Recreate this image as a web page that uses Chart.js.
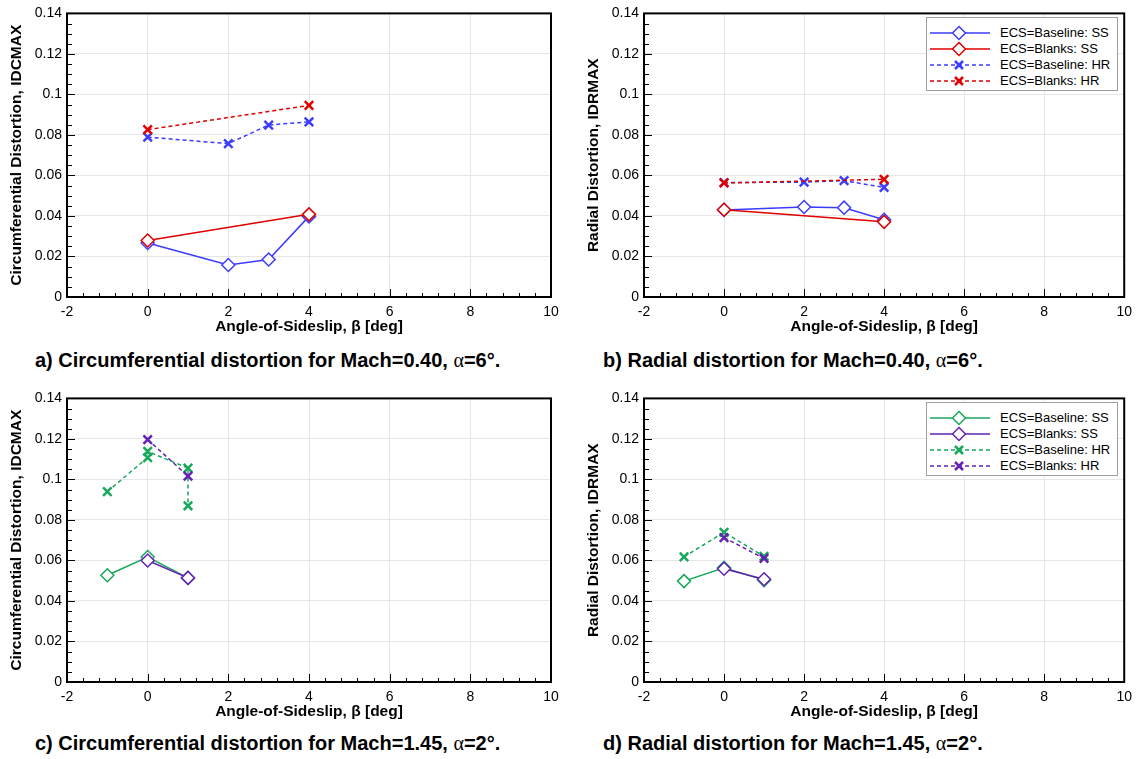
<!DOCTYPE html>
<html>
<head>
<meta charset="utf-8">
<script src="https://cdn.jsdelivr.net/npm/chart.js@4.4.1/dist/chart.umd.min.js"></script>
<style>
  body { margin: 0; background: #fff; width: 1139px; height: 759px; position: relative; overflow: hidden;
         font-family: "Liberation Sans", Arial, sans-serif; }
  canvas { position: absolute; }
  .cap { position: absolute; font-weight: bold; font-size: 20px; line-height: 22px; white-space: nowrap; color: #000; }
  .cap .g { font-family: "Liberation Serif", "DejaVu Serif", serif; font-weight: normal; }
  .legend { position: absolute; width: 190px; height: 72px; border: 1px solid #a0a0a0; background: #fff; font-size: 13px; color: #000; }
  .legend .row { position: absolute; left: 0; height: 16px; line-height: 16px; white-space: nowrap; width: 190px; }
  .legend svg { position: absolute; left: 2px; top: 0; }
  .legend span { position: absolute; left: 73px; }
</style>
</head>
<body>
<canvas id="ca" width="570" height="340" style="left:0;top:0"></canvas>
<canvas id="cb" width="562" height="340" style="left:577px;top:0"></canvas>
<canvas id="cc" width="570" height="340" style="left:0;top:385px"></canvas>
<canvas id="cd" width="562" height="340" style="left:577px;top:385px"></canvas>

<div class="cap" style="left:35px;top:349px">a) Circumferential distortion for Mach=0.40, <span class="g">&alpha;</span>=6&deg;.</div>
<div class="cap" style="left:603px;top:349px">b) Radial distortion for Mach=0.40, <span class="g">&alpha;</span>=6&deg;.</div>
<div class="cap" style="left:35px;top:732px">c) Circumferential distortion for Mach=1.45, <span class="g">&alpha;</span>=2&deg;.</div>
<div class="cap" style="left:603px;top:732px">d) Radial distortion for Mach=1.45, <span class="g">&alpha;</span>=2&deg;.</div>

<div class="legend" id="legB" style="left:926px;top:17px"></div>
<div class="legend" id="legD" style="left:926px;top:402px"></div>

<script>
// axis ticks
const xTicks = [-2, 0, 2, 4, 6, 8, 10];
const yTicks = [0, 0.02, 0.04, 0.06, 0.08, 0.1, 0.12, 0.14];
const yTickLabels = ['0', '0.02', '0.04', '0.06', '0.08', '0.1', '0.12', '0.14'];
const seriesNames = ['ECS=Baseline: SS', 'ECS=Blanks: SS', 'ECS=Baseline: HR', 'ECS=Blanks: HR'];

// a) Mach 0.40, circumferential
const betaA_baseline = [0, 2, 3, 4];
const betaA_blanks = [0, 4];
const idcA_baselineSS = [0.0267, 0.0158, 0.0185, 0.0398];
const idcA_blanksSS = [0.0279, 0.0408];
const idcA_baselineHR = [0.0789, 0.0757, 0.0849, 0.0865];
const idcA_blanksHR = [0.0826, 0.0946];

// b) Mach 0.40, radial
const idrB_baselineSS = [0.0430, 0.0444, 0.0441, 0.0381];
const idrB_blanksSS = [0.0431, 0.0371];
const idrB_baselineHR = [0.0565, 0.0567, 0.0574, 0.0541];
const idrB_blanksHR = [0.0563, 0.0581];

// c) Mach 1.45, circumferential
const betaC_baselineSS = [-1, 0, 1];
const betaC_blanks = [0, 1];
const idcC_baselineSS = [0.0527, 0.0617, 0.0514];
const idcC_blanksSS = [0.0600, 0.0514];
const betaC_baselineHR = [-1, 0, 0, 1, 1];
const idcC_baselineHR = [0.0940, 0.1108, 0.1138, 0.1056, 0.0870];
const idcC_blanksHR = [0.1197, 0.1016];

// d) Mach 1.45, radial
const betaD_baseline = [-1, 0, 1];
const betaD_blanks = [0, 1];
const idrD_baselineSS = [0.0498, 0.0564, 0.0503];
const idrD_blanksSS = [0.0559, 0.0507];
const idrD_baselineHR = [0.0618, 0.0739, 0.0620];
const idrD_blanksHR = [0.0713, 0.0610];

const BLUE = '#3c3cff', RED = '#e00000', GREEN = '#17a85c', PURPLE = '#6422b4';

// inward ticks + black frame, like the original plotting package
const frameTicks = {
  id: 'frameTicks',
  afterDraw(chart) {
    const { ctx, chartArea: a, scales: { x, y } } = chart;
    ctx.save();
    ctx.strokeStyle = '#000';
    ctx.lineWidth = 1;
    ctx.beginPath();
    for (let i = 0; i <= 30; i++) {
      const v = -2 + i * 0.4;
      const px = Math.round(x.getPixelForValue(v)) + 0.5;
      const len = i % 5 === 0 ? 8 : 4;
      ctx.moveTo(px, a.bottom);
      ctx.lineTo(px, a.bottom - len);
    }
    for (let i = 0; i <= 28; i++) {
      const v = i * 0.005;
      const py = Math.round(y.getPixelForValue(v)) + 0.5;
      const len = i % 4 === 0 ? 8 : 5;
      ctx.moveTo(a.left, py);
      ctx.lineTo(a.left + len, py);
    }
    ctx.stroke();
    ctx.lineWidth = 2;
    ctx.strokeRect(a.left, a.top, a.right - a.left, a.bottom - a.top);
    ctx.restore();
  }
};

function toPoints(xs, ys) {
  return xs.map((x, i) => ({ x: x, y: ys[i] }));
}

function series(label, xs, ys, color, hr, order) {
  return {
    label: label,
    data: toPoints(xs, ys),
    showLine: true,
    borderColor: color,
    borderWidth: 1.5,
    borderDash: hr ? [4, 3] : [],
    pointStyle: hr ? 'crossRot' : 'rectRot',
    pointRadius: hr ? 6 : 6.5,
    pointBorderWidth: hr ? 2.5 : 1.5,
    pointBorderColor: color,
    pointBackgroundColor: '#fff',
    tension: 0,
    order: order
  };
}

function makeChart(id, yTitle, datasets) {
  return new Chart(document.getElementById(id), {
    type: 'scatter',
    data: { datasets: datasets },
    plugins: [frameTicks],
    options: {
      responsive: false,
      animation: false,
      layout: { padding: { top: 9, right: id === 'ca' || id === 'cc' ? 19 : 11, bottom: 0, left: 0 } },
      plugins: { legend: { display: false }, tooltip: { enabled: false } },
      scales: {
        x: {
          type: 'linear', min: -2, max: 10,
          afterBuildTicks: s => { s.ticks = xTicks.map(v => ({ value: v })); },
          afterFit: s => { s.height = 43; },
          grid: { color: '#e6e6e6', drawTicks: false },
          border: { display: false },
          ticks: { color: '#000', padding: 7, font: { family: 'Liberation Sans', size: 14 } },
          title: { display: true, text: 'Angle-of-Sideslip, \u03B2 [deg]', color: '#000',
                   font: { family: 'Liberation Sans', size: 15.5, weight: 'bold' }, padding: { top: 0, bottom: 4 } }
        },
        y: {
          type: 'linear', min: 0, max: 0.14,
          afterBuildTicks: s => { s.ticks = yTicks.map(v => ({ value: v })); },
          afterFit: s => { s.width = 67; },
          grid: { color: '#e6e6e6', drawTicks: false },
          border: { display: false },
          ticks: { color: '#000', padding: 5, font: { family: 'Liberation Sans', size: 14 },
                   callback: (v, i) => yTickLabels[i] },
          title: { display: true, text: yTitle, color: '#000',
                   font: { family: 'Liberation Sans', size: 15.5, weight: 'bold' }, padding: { top: 7, bottom: 0 } }
        }
      }
    }
  });
}

makeChart('ca', 'Circumferential Distortion, IDCMAX', [
  series(seriesNames[0], betaA_baseline, idcA_baselineSS, BLUE, false, 3),
  series(seriesNames[1], betaA_blanks, idcA_blanksSS, RED, false, 2),
  series(seriesNames[2], betaA_baseline, idcA_baselineHR, BLUE, true, 1),
  series(seriesNames[3], betaA_blanks, idcA_blanksHR, RED, true, 0)
]);
makeChart('cb', 'Radial Distortion, IDRMAX', [
  series(seriesNames[0], betaA_baseline, idrB_baselineSS, BLUE, false, 3),
  series(seriesNames[1], betaA_blanks, idrB_blanksSS, RED, false, 2),
  series(seriesNames[2], betaA_baseline, idrB_baselineHR, BLUE, true, 1),
  series(seriesNames[3], betaA_blanks, idrB_blanksHR, RED, true, 0)
]);
makeChart('cc', 'Circumferential Distortion, IDCMAX', [
  series(seriesNames[0], betaC_baselineSS, idcC_baselineSS, GREEN, false, 3),
  series(seriesNames[1], betaC_blanks, idcC_blanksSS, PURPLE, false, 2),
  series(seriesNames[2], betaC_baselineHR, idcC_baselineHR, GREEN, true, 1),
  series(seriesNames[3], betaC_blanks, idcC_blanksHR, PURPLE, true, 0)
]);
makeChart('cd', 'Radial Distortion, IDRMAX', [
  series(seriesNames[0], betaD_baseline, idrD_baselineSS, GREEN, false, 3),
  series(seriesNames[1], betaD_blanks, idrD_blanksSS, PURPLE, false, 2),
  series(seriesNames[2], betaD_baseline, idrD_baselineHR, GREEN, true, 1),
  series(seriesNames[3], betaD_blanks, idrD_blanksHR, PURPLE, true, 0)
]);

// boxed legends with line + marker samples
function buildLegend(elId, colors) {
  const el = document.getElementById(elId);
  seriesNames.forEach((name, i) => {
    const hr = i >= 2;
    const c = colors[i];
    const row = document.createElement('div');
    row.className = 'row';
    row.style.top = (7 + i * 16) + 'px';
    const marker = hr
      ? `<path d="M26 4 L34 12 M34 4 L26 12" stroke="${c}" stroke-width="2.5"/>`
      : `<path d="M30 1.5 L36.5 8 L30 14.5 L23.5 8 Z" fill="#fff" stroke="${c}" stroke-width="1.5"/>`;
    row.innerHTML = `<svg width="62" height="16"><line x1="1" y1="8" x2="61" y2="8" stroke="${c}" stroke-width="1.5"` +
      (hr ? ' stroke-dasharray="4 3"' : '') + `/>${marker}</svg><span>${name}</span>`;
    el.appendChild(row);
  });
}
buildLegend('legB', [BLUE, RED, BLUE, RED]);
buildLegend('legD', [GREEN, PURPLE, GREEN, PURPLE]);
</script>
</body>
</html>
